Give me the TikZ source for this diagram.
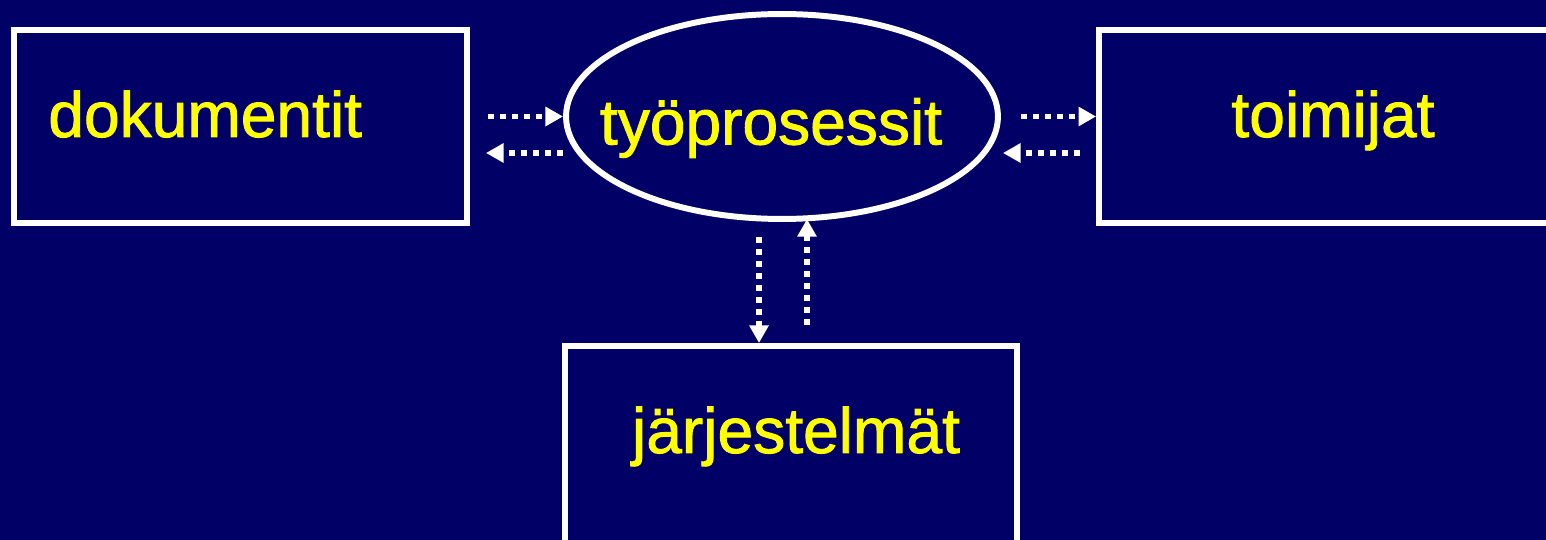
\documentclass[tikz,border=0pt]{standalone}
\usepackage{fontspec}
\setmainfont{Liberation Sans}
\newfontface\labelface{Liberation Sans}[FakeBold=1.4]
\usetikzlibrary{calc,arrows.meta,shapes.geometric}
\definecolor{navy}{RGB}{0,0,102}
\definecolor{labelyellow}{RGB}{255,255,0}
\tikzset{
  frame/.style={draw=white, line width=3.4pt, fill=navy, inner sep=0pt},
  label text/.style={text=labelyellow, font=\labelface\fontsize{36.5}{40}\selectfont, inner sep=0pt},
  flow/.style={white, line width=3.4pt, line cap=butt, dash pattern=on 3.4pt off 3.4pt,
               -{Triangle[length=10pt,width=10.5pt]}},
}
\begin{document}
\begin{tikzpicture}[x=0.02cm,y=-0.02cm]
  \fill[navy] (0,0) rectangle (1546,540);
  \useasboundingbox (0,0) rectangle (1546,540);
  \clip (0,0) rectangle (1546,540);

  % boxes and the central ellipse
  \node[frame, minimum width=9.06cm, minimum height=3.86cm] (doc) at (240.5,126.5) {};
  \node[frame, minimum width=10.02cm, minimum height=3.86cm] (act) at (1349.5,126.5) {};
  \node[frame, minimum width=9.04cm, minimum height=5.08cm] (sys) at (791,473) {};
  \node[frame, ellipse, minimum width=8.64cm, minimum height=4.1cm] (proc) at (782,116.5) {};

  % labels
  \node[label text, anchor=base west] (docl) at (48,137) {dokumentit};
  \node[label text, anchor=base] (procl) at (771,144.5) {työprosessit};
  \node[label text, anchor=base] (actl) at (1333,137) {toimijat};
  \node[label text, anchor=base] (sysl) at (796,453) {järjestelmät};

  % dotted flows between the process and its partners
  \draw[flow] ($(doc.east |- proc.west)+(18,0)$) -- (proc.west);
  \draw[flow] ($(proc.west)+(0,36.5)$) -- ($(doc.east |- proc.west)+(16,36.5)$);
  \draw[flow] ($(proc.east)+(20,0)$) -- (act.west |- proc.east);
  \draw[flow] ($(act.west |- proc.east)+(-16,36.5)$) -- ($(proc.east)+(2,36.5)$);
  \draw[flow] ($(sys.north)+(-32,-106)$) -- ($(sys.north)+(-32,0)$);
  \draw[flow] ($(sys.north)+(16,-18)$) -- ($(sys.north)+(16,-124)$);
\end{tikzpicture}
\end{document}
